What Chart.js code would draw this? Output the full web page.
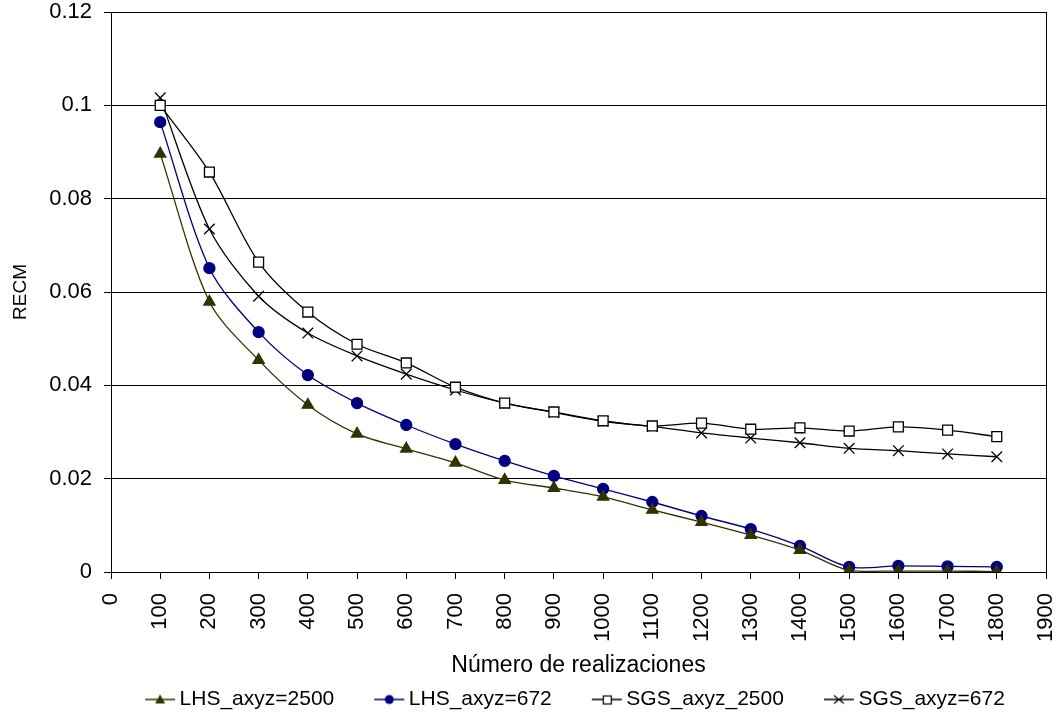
<!DOCTYPE html>
<html>
<head>
<meta charset="utf-8">
<script src="https://cdn.jsdelivr.net/npm/chart.js@4.4.1/dist/chart.umd.min.js"></script>
<style>
  html, body { margin: 0; padding: 0; background: #fff; }
  #wrap { width: 1060px; height: 717px; }
</style>
</head>
<body>
<div id="wrap"><canvas id="myChart" width="1060" height="717"></canvas></div>
<script>
// realizations (x values)
var realizaciones = [100,200,300,400,500,600,700,800,900,1000,1100,1200,1300,1400,1500,1600,1700,1800];

var lhs2500 = [0.0896,0.0579,0.0454,0.0358,0.0296,0.0264,0.0234,0.0197,0.0180,0.0161,0.0133,0.0107,0.0079,0.0047,0.0003,0.0002,0.0002,0.0001];
var lhs672  = [0.0964,0.0651,0.0514,0.0422,0.0362,0.0315,0.0274,0.0238,0.0206,0.0178,0.0150,0.0120,0.0092,0.0056,0.0011,0.0013,0.0012,0.0011];
var sgs2500 = [0.1000,0.0857,0.0664,0.0557,0.0488,0.0448,0.0396,0.0362,0.0343,0.0324,0.0313,0.0319,0.0306,0.0309,0.0302,0.0311,0.0304,0.0290];
var sgs672  = [0.1016,0.0735,0.0591,0.0512,0.0463,0.0424,0.0390,0.0362,0.0342,0.0323,0.0312,0.0298,0.0287,0.0277,0.0265,0.0260,0.0253,0.0247];

var seriesNames = ['LHS_axyz=2500','LHS_axyz=672','SGS_axyz_2500','SGS_axyz=672'];

function pts(arr){
  return arr.map(function(v,i){ return {x: realizaciones[i], y: v}; });
}

// legend icon: short line with the marker in the middle,
// drawn at the right side of the canvas so it sits close to the text
function legendIcon(color, kind){
  var c = document.createElement('canvas');
  c.width = 68; c.height = 14;
  var g = c.getContext('2d');
  var x0 = 37, x1 = 67, cx = 52, cy = 7;
  g.strokeStyle = color; g.fillStyle = color; g.lineWidth = 1.5;
  g.beginPath(); g.moveTo(x0,cy); g.lineTo(x1,cy); g.stroke();
  g.lineWidth = 1.2;
  if (kind === 'triangle'){
    g.beginPath(); g.moveTo(cx,cy-5); g.lineTo(cx+5,cy+4); g.lineTo(cx-5,cy+4); g.closePath(); g.fill();
  } else if (kind === 'circle'){
    g.beginPath(); g.arc(cx,cy,4.5,0,Math.PI*2); g.fill();
  } else if (kind === 'rect'){
    g.fillStyle = '#fff'; g.fillRect(cx-4,cy-4,8,8); g.strokeRect(cx-3.5,cy-3.5,8,8);
  } else {
    g.beginPath(); g.moveTo(cx-5,cy-4); g.lineTo(cx+5,cy+4); g.moveTo(cx+5,cy-4); g.lineTo(cx-5,cy+4); g.stroke();
  }
  return c;
}

var boxPlugin = {
  id: 'box',
  afterLayout: function(chart){
    // legend in the original sits a bit right of the canvas centre and lower
    chart.legend.left += 37;
    chart.legend.right += 37;
    chart.legend.top += 3;
    chart.legend.bottom += 3;
  },
  afterDraw: function(chart){
    var a = chart.chartArea, g = chart.ctx;
    g.save(); g.strokeStyle = '#000'; g.lineWidth = 1;
    g.strokeRect(Math.round(a.left)+0.5, Math.round(a.top)+0.5, Math.round(a.right-a.left), Math.round(a.bottom-a.top));
    g.restore();
  }
};

var font = "'Liberation Sans', Arial, sans-serif";

var ctx = document.getElementById("myChart").getContext("2d");
var myChart = new Chart(ctx, {
  type: 'line',
  data: {
    datasets: [
      { label: seriesNames[0], data: pts(lhs2500), borderColor: '#333300', backgroundColor: '#333300',
        pointStyle: 'triangle', pointRadius: 6.5, borderWidth: 1.3, tension: 0.3, legendIcon: legendIcon('#333300','triangle') },
      { label: seriesNames[1], data: pts(lhs672), borderColor: '#000080', backgroundColor: '#000080',
        pointStyle: 'circle', pointRadius: 5.5, borderWidth: 1.3, tension: 0.3, legendIcon: legendIcon('#000080','circle') },
      { label: seriesNames[2], data: pts(sgs2500), borderColor: '#000', backgroundColor: '#fff',
        pointStyle: 'rect', pointRadius: 7, pointBorderWidth: 1.3, borderWidth: 1.3, tension: 0.3, legendIcon: legendIcon('#000','rect') },
      { label: seriesNames[3], data: pts(sgs672), borderColor: '#000', backgroundColor: '#000',
        pointStyle: 'crossRot', pointRadius: 7.5, pointBorderWidth: 1.3, borderWidth: 1.3, tension: 0.3, legendIcon: legendIcon('#000','cross') }
    ]
  },
  options: {
    responsive: false,
    animation: false,
    layout: { padding: { top: 12, right: 14, left: 0, bottom: 0 } },
    plugins: {
      tooltip: { enabled: false },
      legend: {
        position: 'bottom',
        labels: {
          font: { family: font, size: 21 },
          color: '#000',
          usePointStyle: true,
          pointStyleWidth: 54,
          padding: 10,
          generateLabels: function(chart){
            return chart.data.datasets.map(function(ds, i){
              return { text: ds.label, pointStyle: ds.legendIcon, fillStyle: ds.borderColor,
                       strokeStyle: ds.borderColor, lineWidth: 0, datasetIndex: i, fontColor: '#000' };
            });
          }
        }
      }
    },
    scales: {
      x: {
        type: 'linear',
        min: 0, max: 1900,
        ticks: { stepSize: 100, autoSkip: false, minRotation: 90, maxRotation: 90,
                 color: '#000', font: { family: font, size: 22 }, padding: 14,
                 callback: function(v){ return String(v); } },
        grid: { drawOnChartArea: false, drawTicks: true, tickLength: 7, color: '#000' },
        border: { color: '#000' },
        title: { display: true, text: 'Número de realizaciones', color: '#000',
                 font: { family: font, size: 23, lineHeight: 1 }, padding: { top: 4, bottom: -1 } },
        afterFit: function(s){ s.height = 104; s.paddingLeft = 0; s.paddingRight = 0; }
      },
      y: {
        min: 0, max: 0.12,
        ticks: { stepSize: 0.02, color: '#000', font: { family: font, size: 22 }, padding: 12,
                 callback: function(v){ return String(Number(v.toFixed(2))); } },
        grid: { color: '#000', tickLength: 7 },
        border: { color: '#000' },
        title: { display: true, text: 'RECM', color: '#000', font: { family: font, size: 19 },
                 padding: { top: 9, bottom: 0 } },
        afterFit: function(s){ s.width = 111; s.paddingTop = 0; s.paddingBottom = 0; }
      }
    }
  },
  plugins: [boxPlugin]
});
</script>
</body>
</html>
